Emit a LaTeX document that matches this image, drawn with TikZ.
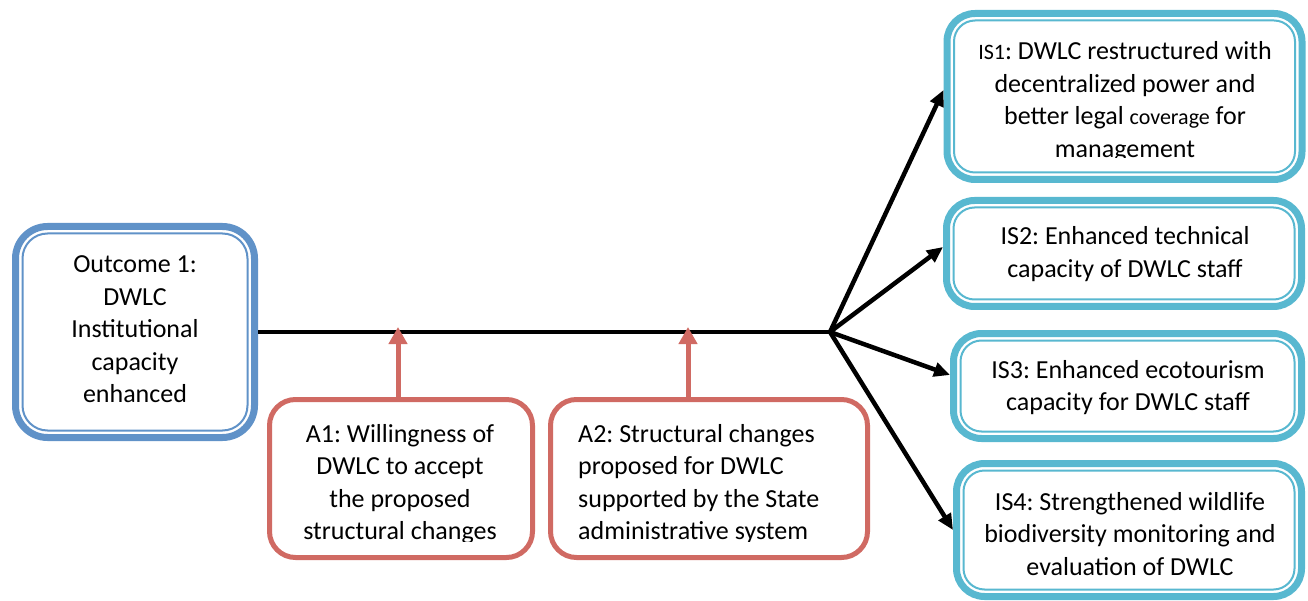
\documentclass[tikz,border=0pt]{standalone}
\usepackage{fontspec}
\setmainfont{Carlito}
\usetikzlibrary{arrows.meta,calc}
\definecolor{blueO}{RGB}{96,146,200}
\definecolor{cyanB}{RGB}{88,184,208}
\definecolor{redA}{RGB}{208,106,99}
\newcommand\dwlcinner[3]{\draw[#2, line width=2pt, rounded corners=#3] ([shift={(10.5pt,-10.5pt)}]#1.north west) rectangle ([shift={(-10.5pt,10.5pt)}]#1.south east);}
\frenchspacing
\begin{document}
\begin{tikzpicture}[x=1pt,y=-1pt,
  dblbox/.style={draw=#1, line width=7pt, rounded corners=28pt, inner sep=0pt, fill=white},
  abox/.style={draw=redA, line width=5pt, rounded corners=26pt, inner sep=0pt, fill=white},
  txt/.style={inner sep=0pt, font=\fontsize{26}{32.5}\selectfont\frenchspacing},
  blk/.style={line width=4.5pt, -{Triangle[length=16pt,width=14pt]}},
  redarrow/.style={draw=redA, line width=5pt, -{Triangle[length=17pt,width=18pt]}}]
\useasboundingbox (0,0) rectangle (1308,601);

% boxes
\node[dblbox=blueO, rounded corners=32pt, minimum width=239pt, minimum height=211pt] (O) at (135,332) {};
\dwlcinner{O}{blueO}{25pt}
\node[dblbox=cyanB, minimum width=355pt, minimum height=166pt] (IS1) at (1124.5,96.5) {};
\dwlcinner{IS1}{cyanB}{21pt}
\node[dblbox=cyanB, minimum width=355pt, minimum height=106pt] (IS2) at (1124,253.5) {};
\dwlcinner{IS2}{cyanB}{21pt}
\node[dblbox=cyanB, minimum width=348pt, minimum height=105pt] (IS3) at (1127.5,386) {};
\dwlcinner{IS3}{cyanB}{21pt}
\node[dblbox=cyanB, minimum width=345pt, minimum height=133pt] (IS4) at (1129,530) {};
\dwlcinner{IS4}{cyanB}{21pt}
\node[abox, minimum width=263pt, minimum height=158pt] (A1) at (401,478.5) {};
\node[abox, minimum width=317pt, minimum height=158pt] (A2) at (709,478.5) {};

% texts
\node[txt, anchor=base] (tO) at (135,273) {\begin{tabular}[t]{@{}c@{}}Outcome 1:\\DWLC\\Institutional\\capacity\\enhanced\end{tabular}};
\begin{scope}
\clip (950,15) rectangle (1300,158);
\node[txt, anchor=base] (tIS1) at (1125,60) {\begin{tabular}[t]{@{}c@{}}{\fontsize{22}{32.5}\selectfont IS1}: DWLC restructured with\\decentralized power and\\better legal {\fontsize{22}{32.5}\selectfont coverage} for\\management\end{tabular}};
\end{scope}
\node[txt, anchor=base] (tIS2) at (1125,245) {\begin{tabular}[t]{@{}c@{}}IS2: Enhanced technical\\capacity of DWLC staff\end{tabular}};
\node[txt, anchor=base] (tIS3) at (1128,378) {\begin{tabular}[t]{@{}c@{}}IS3: Enhanced ecotourism\\capacity for DWLC staff\end{tabular}};
\node[txt, anchor=base] (tIS4) at (1130,510) {\begin{tabular}[t]{@{}c@{}}IS4: Strengthened wildlife\\biodiversity monitoring and\\evaluation of DWLC\end{tabular}};
\begin{scope}
\clip (270,400) rectangle (866,541);
\node[txt, anchor=base] (tA1) at (400,442) {\begin{tabular}[t]{@{}c@{}}A1: Willingness of\\DWLC to accept\\the proposed\\structural changes\end{tabular}};
\node[txt, anchor=base west] (tA2) at (578,442) {\begin{tabular}[t]{@{}l@{}}A2: Structural changes\\proposed for DWLC\\supported by the State\\administrative system\end{tabular}};
\end{scope}

% connectors
\coordinate (hub) at (830,332);
\coordinate (m1) at (398,327);
\coordinate (m2) at (688,327);
\draw[line width=4.5pt] (O.east) -- (hub);
\draw[blk] (hub) -- ([yshift=6.5pt]IS1.west);
\draw[blk] (hub) -- ([yshift=6.5pt]IS2.west);
\draw[blk] (hub) -- ([yshift=11pt]IS3.west);
\draw[blk] (hub) -- (IS4.west);
\draw[redarrow] (m1 |- A1.north) -- (m1);
\draw[redarrow] (m2 |- A2.north) -- (m2);
\end{tikzpicture}
\end{document}
